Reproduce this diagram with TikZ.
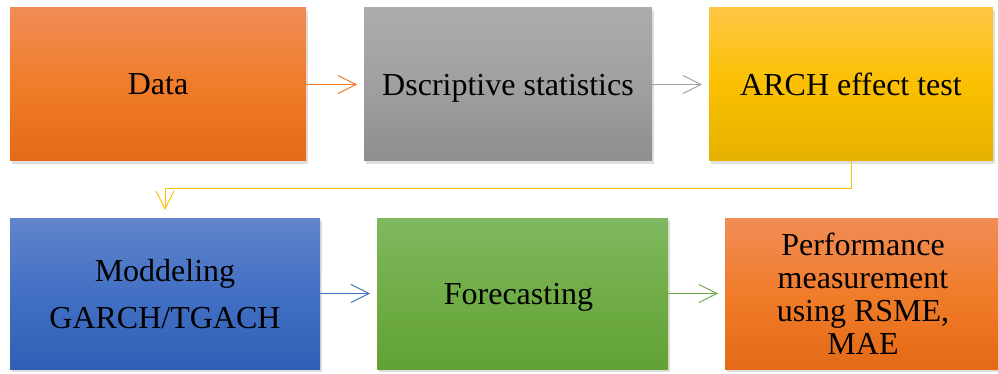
\documentclass[tikz,border=0pt]{standalone}
\usepackage{fontspec}
\setmainfont{Liberation Serif}
\usetikzlibrary{arrows.meta,positioning,shadows}

\definecolor{accorange}{RGB}{237,125,49}
\definecolor{accgray}{RGB}{165,165,165}
\definecolor{accgold}{RGB}{255,192,0}
\definecolor{accblue}{RGB}{68,114,196}
\definecolor{accgreen}{RGB}{112,173,71}

\begin{document}
\begin{tikzpicture}[x=1pt, y=1pt, style={
  blob/.style={
    minimum height=153pt,
    inner sep=0pt, outer sep=0pt,
    align=center, text depth=0pt,
    font=\fontsize{32}{33}\selectfont,
    drop shadow={shadow xshift=2pt, shadow yshift=-3pt, opacity=0.25},
  },
  orangestyle/.style={
    blob,
    top color={rgb,255:red,241;green,140;blue,86},
    bottom color={rgb,255:red,228;green,106;blue,22},
    middle color={rgb,255:red,240;green,124;blue,42},
  },
  graystyle/.style={
    blob,
    top color={rgb,255:red,172;green,172;blue,172},
    bottom color={rgb,255:red,142;green,142;blue,142},
    middle color={rgb,255:red,160;green,160;blue,160},
  },
  goldstyle/.style={
    blob,
    top color={rgb,255:red,255;green,198;blue,70},
    bottom color={rgb,255:red,229;green,176;blue,0},
    middle color={rgb,255:red,250;green,192;blue,0},
  },
  bluestyle/.style={
    blob,
    top color={rgb,255:red,97;green,132;blue,204},
    bottom color={rgb,255:red,47;green,95;blue,181},
    middle color={rgb,255:red,66;green,112;blue,196},
  },
  greenstyle/.style={
    blob,
    top color={rgb,255:red,128;green,184;blue,96},
    bottom color={rgb,255:red,98;green,162;blue,53},
    middle color={rgb,255:red,112;green,173;blue,71},
  },
  myarrow/.style={-{Straight Barb[length=18pt, width=18pt]}, line width=1pt, shorten >=7pt}
}]
\useasboundingbox (0,0) rectangle (998,-374);
\draw[]
  node[orangestyle, minimum width=296pt] (data) at (158,-84.5) {Data}
  node[graystyle, minimum width=288pt, right=58pt of data] (descstats) {Dscriptive statistics}
  node[goldstyle, minimum width=284pt, right=57pt of descstats] (archtest) {ARCH effect test}
;
\draw[]
  node[bluestyle, minimum width=310pt, minimum height=151pt] (garch) at (165,-293.5) {
    Moddeling\\[14pt]GARCH/TGACH
  }
  node[greenstyle, minimum width=291pt, minimum height=151pt, right=57pt of garch] (forecast) {
    Forecasting
  }
  node[orangestyle, minimum width=276pt, minimum height=151pt, right=57pt of forecast] (perf) {
    Performance\\measurement\\using RSME,\\MAE
  }
;
\draw[myarrow, accorange] (data) -- (descstats);
\draw[myarrow, accgray] (descstats) -- (archtest);
\draw[myarrow, accgold, shorten >=8pt] (archtest.south) -- ++(0,-28) -| (garch.north);
\draw[myarrow, accblue] (garch) -- (forecast);
\draw[myarrow, accgreen] (forecast) -- (perf);
\end{tikzpicture}
\end{document}
